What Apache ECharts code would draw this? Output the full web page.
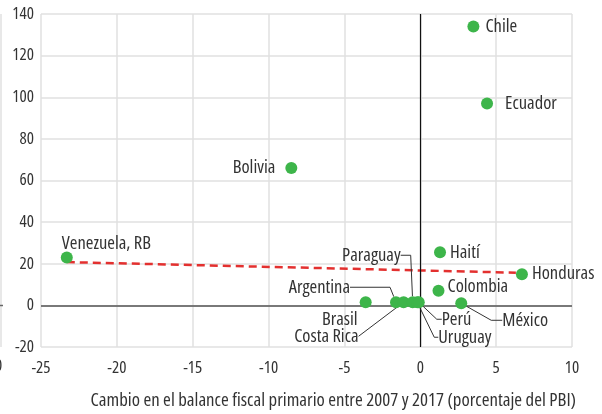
<!DOCTYPE html>
<html>
<head>
<meta charset="utf-8">
<script src="https://cdn.jsdelivr.net/npm/echarts@6/dist/echarts.min.js"></script>
<style>
  html, body { margin: 0; padding: 0; background: #fff; }
  #chart { width: 602px; height: 414px; }
</style>
</head>
<body>
<div id="chart"></div>
<script>
// countries and their values
const countries = ['Chile', 'Ecuador', 'Bolivia', 'Venezuela, RB', 'Haití', 'Honduras', 'Colombia',
  'México', 'Brasil', 'Argentina', 'Costa Rica', 'Paraguay', 'Uruguay', 'Perú']
const balanceChange = [3.5, 4.4, -8.5, -23.3, 1.3, 6.7, 1.2, 2.7, -3.6, -1.6, -1.1, -0.5, -0.2, -0.1]
const yValues = [134, 97, 66, 23, 25.5, 15, 7, 1, 1.5, 1.5, 1.5, 1.5, 1.5, 1.5]

// dashed trend line, end points
const trendX = [-23.3, 6.3]
const trendY = [20.8, 15.7]

const xTicks = { min: -25, max: 10, step: 5 }
const yTicks = { min: -20, max: 140, step: 20 }

const xTitle = 'Cambio en el balance fiscal primario entre 2007 y 2017 (porcentaje del PBI)'

// condensed face: the stretch keyword rides in fontStyle so it ends up in the canvas font string
const FONT = '"Open Sans", sans-serif'
const STRETCH = 'condensed'
const TEXT = '#333'
const GREEN = '#3db54a'

// label placement per country (dx/dy from the default spot)
const labelPlace = {
  'Chile': { position: 'right', distance: 6, dx: 0, dy: 0 },
  'Ecuador': { position: 'right', distance: 12, dx: 0, dy: 0 },
  'Bolivia': { position: 'left', distance: 10, dx: 0, dy: 0 },
  'Venezuela, RB': { position: 'right', distance: 5, dx: -16, dy: -14 },
  'Haití': { position: 'right', distance: 4, dx: 0, dy: 0 },
  'Honduras': { position: 'right', distance: 4, dx: 0, dy: 0 },
  'Colombia': { position: 'right', distance: 3, dx: 0, dy: -4 },
  'Brasil': { position: 'left', distance: 5, dx: 3, dy: 17 },
  // these get a leader line
  'Argentina': { position: 'left', distance: 5, pad: 6, dx: -29, dy: -15, len2: 40 },
  'Paraguay': { position: 'left', distance: 5, pad: 3, dx: 2, dy: -47, len2: 10 },
  'Costa Rica': { position: 'left', distance: 5, pad: 4, dx: -30, dy: 34, len2: 0 },
  'Uruguay': { position: 'right', distance: 5, pad: 3, dx: 7, dy: 35, len2: 4 },
  'Perú': { position: 'right', distance: 5, pad: 3, dx: 9, dy: 17, len2: 5 },
  'México': { position: 'right', distance: 5, pad: 11, dx: 19, dy: 17, len2: 11 }
}

const points = countries.map((name, i) => {
  const p = labelPlace[name]
  const item = { name: name, value: [balanceChange[i], yValues[i]] }
  item.label = { position: p.position, distance: p.distance }
  if (p.len2 != null) {
    item.label.padding = [0, p.pad]
    item.labelLine = { show: true, length2: p.len2, lineStyle: { color: '#333', width: 1 } }
  }
  return item
})

const chart = echarts.init(document.getElementById('chart'))

const axisText = { color: TEXT, fontSize: 17, fontFamily: FONT, fontStyle: STRETCH }

chart.setOption({
  animation: false,
  grid: { left: 41, right: 30, top: 14, bottom: 67 },
  xAxis: {
    type: 'value',
    min: xTicks.min,
    max: xTicks.max,
    interval: xTicks.step,
    axisLine: { show: false },
    axisTick: { show: false },
    axisLabel: { ...axisText, margin: 13 },
    splitLine: { show: true, lineStyle: { color: '#e0e0e0', width: 1.5 } }
  },
  yAxis: {
    type: 'value',
    min: yTicks.min,
    max: yTicks.max,
    interval: yTicks.step,
    axisLine: { show: false },
    axisTick: { show: false },
    axisLabel: { ...axisText, margin: 7 },
    splitLine: { show: true, lineStyle: { color: '#e0e0e0', width: 1.5 } }
  },
  graphic: [
    // edge of the neighbouring panel, cut off on the left
    { type: 'line', shape: { x1: 1, y1: 14, x2: 1, y2: 347 }, style: { stroke: '#e0e0e0', lineWidth: 1.5 } },
    { type: 'line', shape: { x1: 0, y1: 305.5, x2: 3, y2: 305.5 }, style: { stroke: '#666', lineWidth: 1.5 } },
    { type: 'text', x: -5, y: 358, style: { text: '0', fill: TEXT, font: STRETCH + ' 17px ' + FONT } },
    {
      type: 'text', right: 26, top: 391,
      style: { text: xTitle, fill: TEXT, font: STRETCH + ' 18.8px ' + FONT }
    }
  ],
  series: [
    {
      type: 'line',
      data: trendX.map((x, i) => [x, trendY[i]]),
      symbol: 'none',
      z: 3,
      lineStyle: { color: '#e3302f', width: 2.5, type: [8, 5] },
      markLine: {
        silent: true,
        symbol: ['none', 'none'],
        label: { show: false },
        data: [
          { xAxis: 0, lineStyle: { color: '#111', width: 1.2, type: 'solid' } },
          { yAxis: 0, lineStyle: { color: '#555', width: 1.5, type: 'solid' } }
        ]
      }
    },
    {
      type: 'scatter',
      symbolSize: 12,
      z: 5,
      itemStyle: { color: GREEN, opacity: 1 },
      label: {
        show: true,
        formatter: '{b}',
        color: TEXT,
        fontSize: 18.5,
        fontFamily: FONT,
        fontStyle: STRETCH
      },
      labelLayout: function (params) {
        const p = labelPlace[countries[params.dataIndex]]
        return { dx: p.dx, dy: p.dy }
      },
      data: points
    }
  ]
})
</script>
</body>
</html>
